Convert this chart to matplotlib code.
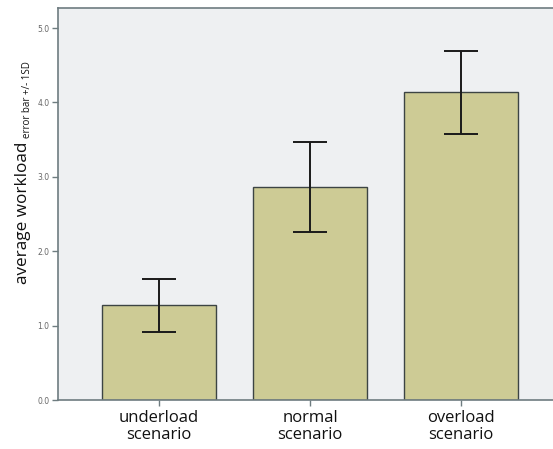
import matplotlib
matplotlib.use("Agg")
import matplotlib.pyplot as plt

categories = ["underload\nscenario", "normal\nscenario", "overload\nscenario"]
means = [1.28, 2.86, 4.14]
err_low = [0.91, 2.26, 3.575]
err_high = [1.63, 3.47, 4.69]
yticks = [0.0, 1.0, 2.0, 3.0, 4.0, 5.0]

W, H = 553, 449
fig = plt.figure(figsize=(W / 100, H / 100), dpi=100)
fig.patch.set_facecolor("white")
ax = fig.add_axes([58 / W, (H - 400) / H, 1 - 58 / W, (400 - 8) / H])
ax.set_facecolor("#EEF0F2")

x = list(range(len(categories)))
yerr = [[m - l for m, l in zip(means, err_low)], [h - m for m, h in zip(means, err_high)]]
ax.bar(x, means, width=0.755, color="#CDCB95", edgecolor="#3C4444", linewidth=1.0, zorder=2)
ax.errorbar(x, means, yerr=yerr, fmt="none", ecolor="#1A1A1A", elinewidth=1.4,
            capsize=12.3, capthick=1.4, zorder=3)

ax.set_xlim(-0.67, 2.61)
ax.set_ylim(0, 5.27)
ax.set_yticks(yticks)
ax.set_yticklabels([f"{v:.1f}" for v in yticks], fontsize=5.5, color="#666666")
ax.set_xticks(x)
ax.set_xticklabels(categories, fontsize=12, color="#111111", linespacing=1.1,
                   family="Open Sans")

for s in ["left", "bottom", "top"]:
    ax.spines[s].set_color("#6E7C80")
    ax.spines[s].set_linewidth(1.2)
ax.spines["right"].set_visible(False)
ax.tick_params(axis="y", length=4, width=1, color="#6E7C80", pad=2)
ax.tick_params(axis="x", length=4, width=1, color="#6E7C80", pad=3)

fig.text(27 / W, (H - 284) / H, "average workload", rotation=90, rotation_mode="anchor",
         ha="left", va="baseline", fontsize=12.3, color="#111111", family="Open Sans")
fig.text(30 / W, (H - 138) / H, "error bar +/- 1SD", rotation=90, rotation_mode="anchor",
         ha="left", va="baseline", fontsize=7, color="#111111", family="Open Sans")

fig.savefig("out.png", dpi=100)
